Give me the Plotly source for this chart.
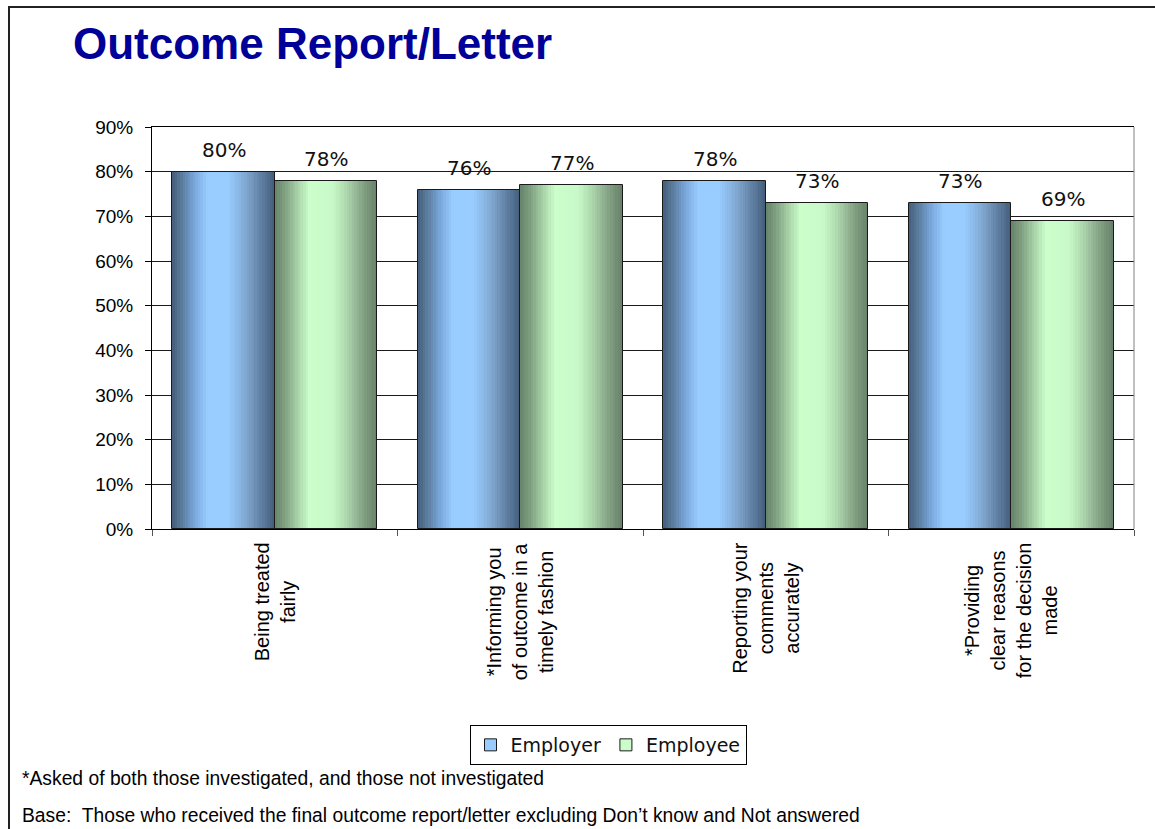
import plotly.graph_objects as go

# ---- data -------------------------------------------------------------
categories = [
    "Being treated<br>fairly",
    "*Informing you<br>of outcome in a<br>timely fashion",
    "Reporting your<br>comments<br>accurately",
    "*Providing<br>clear reasons<br>for the decision<br>made",
]
series_names = ["Employer", "Employee"]
employer = [80, 76, 78, 73]
employee = [78, 77, 73, 69]
y_ticks = [0, 10, 20, 30, 40, 50, 60, 70, 80, 90]
y_tick_text = [f"{v}%" for v in y_ticks]

title_text = "Outcome Report/Letter"
footnote_1 = "*Asked of both those investigated, and those not investigated"
footnote_2 = "Base:  Those who received the final outcome report/letter excluding Don\u2019t know and Not answered"

# ---- geometry of the page (pixels) ------------------------------------
W, H = 1155, 829
L, R, T, B = 152, 1134, 127, 529


def px_x(p):
    return (p - L) / (R - L)


def px_y(p):
    return (B - p) / (B - T)


# ---- gradient helpers -------------------------------------------------
def hex_rgb(h):
    h = h.lstrip("#")
    return tuple(int(h[i:i + 2], 16) for i in (0, 2, 4))


def ramp(stops, t):
    for (t0, c0), (t1, c1) in zip(stops, stops[1:]):
        if t0 <= t <= t1:
            f = 0 if t1 == t0 else (t - t0) / (t1 - t0)
            a, b = hex_rgb(c0), hex_rgb(c1)
            return "rgb(%d,%d,%d)" % tuple(round(a[i] + (b[i] - a[i]) * f) for i in range(3))
    return stops[-1][1]


blue_stops = [(0.0, "#445e7c"), (0.08, "#587898"), (0.22, "#7aa8dc"), (0.34, "#99ccff"),
              (0.54, "#99ccff"), (0.63, "#8cbbea"), (0.73, "#7ea4cc"), (0.87, "#5f7fa2"),
              (1.0, "#435c79")]
green_stops = [(0.0, "#66836a"), (0.08, "#7a9a7c"), (0.22, "#a6d0a6"), (0.34, "#ccffcc"),
               (0.56, "#c8f8c8"), (0.67, "#b3e0b3"), (0.79, "#96b896"), (0.9, "#7a977a"),
               (1.0, "#66806a")]

BAR_W = 0.4175
N_STRIPS = 40

fig = go.Figure()

for vals, stops, off in [(employer, blue_stops, -BAR_W), (employee, green_stops, 0.0)]:
    sw = BAR_W / N_STRIPS
    for k in range(N_STRIPS):
        fig.add_trace(go.Bar(
            x=categories, y=vals, offset=off + k * sw, width=sw * 1.02,
            marker=dict(color=ramp(stops, (k + 0.5) / N_STRIPS), line=dict(width=0)),
            showlegend=False, hoverinfo="skip",
        ))
    # bar outline
    fig.add_trace(go.Bar(
        x=categories, y=vals, offset=off, width=BAR_W,
        marker=dict(color="rgba(0,0,0,0)", line=dict(color="#1a1a1a", width=1)),
        showlegend=False, hoverinfo="skip",
    ))

# legend entries
for name, stops in zip(series_names, [blue_stops, green_stops]):
    fig.add_trace(go.Bar(
        x=[None], y=[None], name=name,
        marker=dict(color=ramp(stops, 0.4), line=dict(color="#1a1a1a", width=1)),
    ))

annotations = []
# value labels above each bar
for vals, dx in [(employer, -BAR_W / 2), (employee, BAR_W / 2)]:
    for i, v in enumerate(vals):
        annotations.append(dict(
            x=i + dx, y=v, xref="x", yref="y", text=f"{v}%", showarrow=False,
            xanchor="center", yanchor="bottom", yshift=8,
            font=dict(family="DejaVu Sans", size=20, color="#111111"),
        ))

# rotated category labels
for i, c in enumerate(categories):
    annotations.append(dict(
        x=i, y=0, xref="x", yref="y", text=c, showarrow=False, textangle=-90,
        xanchor="center", yanchor="top", yshift=-11, align="center",
        font=dict(family="Liberation Sans, Arial", size=20, color="black"),
    ))

# footnotes
foot_font = dict(family="Liberation Sans, Arial", size=19.3, color="black")
annotations.append(dict(
    x=px_x(20), y=px_y(778), xref="paper", yref="paper", text=footnote_1,
    showarrow=False, xanchor="left", yanchor="middle", font=foot_font,
))
annotations.append(dict(
    x=px_x(20), y=px_y(815), xref="paper", yref="paper", text=footnote_2,
    showarrow=False, xanchor="left", yanchor="middle", font=foot_font,
))

shapes = [
    # page frame (runs past the right and bottom edges)
    dict(type="rect", xref="paper", yref="paper",
         x0=px_x(9), x1=px_x(1250), y0=px_y(950), y1=px_y(7),
         line=dict(color="#222222", width=2), fillcolor="rgba(0,0,0,0)", layer="below"),
    # right edge of the plot area
    dict(type="line", xref="paper", yref="paper", x0=1, x1=1, y0=0, y1=1,
         line=dict(color="#808080", width=1)),
]

fig.update_layout(
    width=W, height=H,
    margin=dict(l=L, r=W - R, t=T, b=H - B, pad=0),
    paper_bgcolor="white", plot_bgcolor="white",
    barmode="overlay", bargap=0,
    title=dict(text=f"<b>{title_text}</b>", x=73 / W, xanchor="left",
               y=1 - 44 / H, yanchor="middle", xref="container", yref="container",
               font=dict(family="Liberation Sans, Arial", size=44, color="#000099")),
    xaxis=dict(type="category", range=[-0.5, 3.5], showticklabels=False,
               ticks="outside", tickson="boundaries", ticklen=6, tickcolor="#555555",
               showgrid=False, showline=True, linecolor="black", linewidth=1,
               mirror=True, zeroline=False),
    yaxis=dict(range=[0, 90], tickmode="array", tickvals=y_ticks, ticktext=y_tick_text,
               ticks="outside", ticklen=6, tickcolor="black", ticklabelstandoff=8,
               tickfont=dict(family="Liberation Sans, Arial", size=19, color="black"),
               showgrid=True, gridcolor="#1a1a1a", gridwidth=1,
               showline=True, linecolor="black", linewidth=1, zeroline=False),
    legend=dict(orientation="h", x=px_x(608), y=px_y(725), xanchor="center", yanchor="top",
                bordercolor="black", borderwidth=1, bgcolor="white",
                font=dict(family="DejaVu Sans", size=19, color="#111111"),
                itemwidth=30, traceorder="normal"),
    annotations=annotations,
    shapes=shapes,
)

fig.write_html("out.html")
